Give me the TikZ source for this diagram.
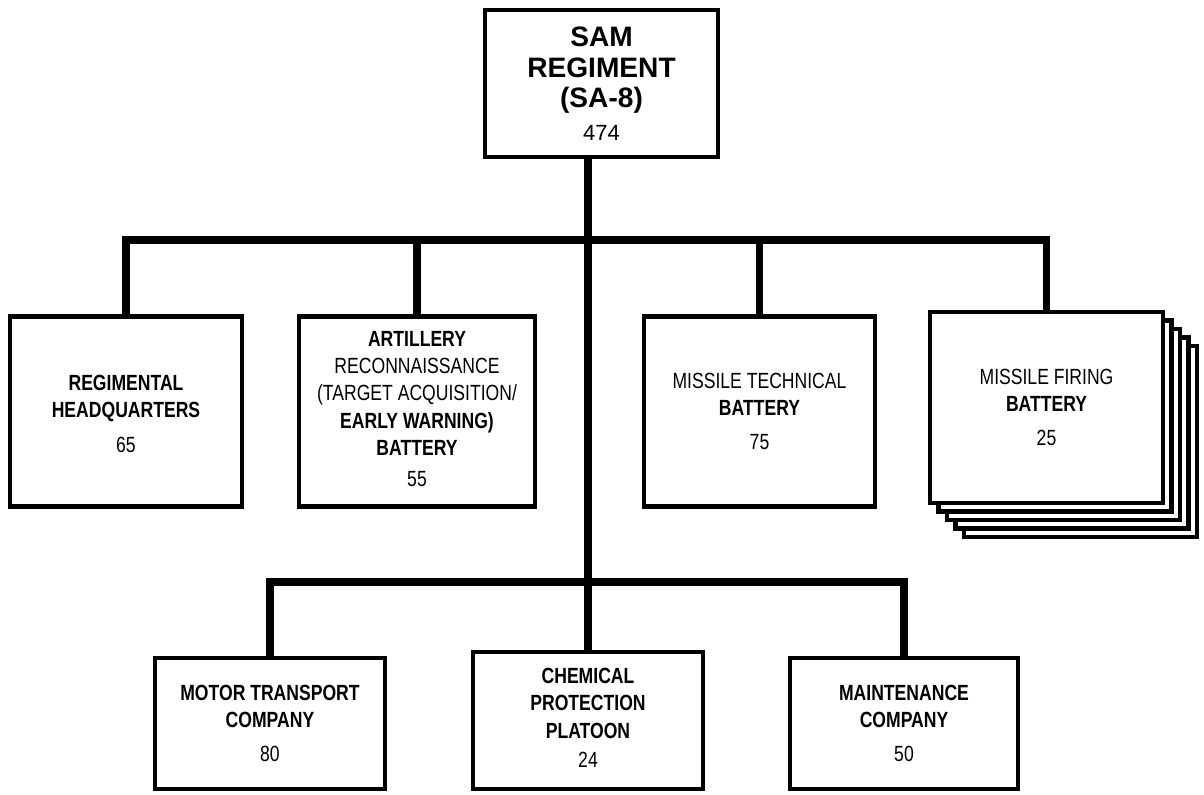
\documentclass[tikz,border=0pt]{standalone}
\usepackage{fontspec}
\newfontfamily\orgfont[FakeStretch=0.8]{Liberation Sans}
\newfontfamily\headfont{Liberation Sans}
\usetikzlibrary{positioning}

\begin{document}
\begin{tikzpicture}[
    orgbox/.style={draw, line width=2.6pt, fill=white, inner sep=0pt, align=center,
        minimum width=4.64cm, minimum height=3.8cm,
        font=\orgfont\bfseries\fontsize{12.5}{15.5}\selectfont},
    lowbox/.style={orgbox, minimum height=2.62cm},
    bus/.style={line width=4.5pt}
]
\useasboundingbox (0,0) rectangle (24.08,-15.88);

% regiment
\node[orgbox, minimum width=4.66cm, minimum height=2.94cm,
      font=\headfont\bfseries\fontsize{16}{17.5}\selectfont] (sam) at (12.03,-1.67)
    {SAM\\REGIMENT\\(SA-8)\\[1pt]{\mdseries\fontsize{12.5}{14}\selectfont 474}};

% batteries and headquarters
\node[orgbox] (hq) at (2.52,-8.23) {\\[-4pt]REGIMENTAL\\HEADQUARTERS\\[4pt]{\mdseries 65}};
\node[orgbox, minimum width=4.72cm] (art) at (8.34,-8.23)
    {\\[-10pt]ARTILLERY\\{\mdseries RECONNAISSANCE}\\{\mdseries (TARGET ACQUISITION/}\\EARLY WARNING)\\BATTERY\\[2pt]{\mdseries 55}};
\node[orgbox, minimum width=4.62cm] (tech) at (15.19,-8.23)
    {{\mdseries MISSILE TECHNICAL}\\BATTERY\\[4pt]{\mdseries 75}};
\foreach \i in {4,3,2,1}
    \node[orgbox, minimum width=4.66cm, minimum height=3.82cm] (firing-\i)
        at (20.93+0.17*\i,-8.15-0.17*\i) {};
\node[orgbox, minimum width=4.66cm, minimum height=3.82cm] (firing) at (20.93,-8.15)
    {{\mdseries MISSILE FIRING}\\BATTERY\\[4pt]{\mdseries 25}};

% support units
\node[lowbox, minimum width=4.6cm] (motor) at (5.40,-14.47) {MOTOR TRANSPORT\\COMPANY\\[4pt]{\mdseries 80}};
\node[lowbox, minimum width=4.6cm, minimum height=2.74cm] (chem) at (11.76,-14.41)
    {\\[-10pt]CHEMICAL\\PROTECTION\\PLATOON\\[1pt]{\mdseries 24}};
\node[lowbox, minimum width=4.56cm] (maint) at (18.08,-14.47) {MAINTENANCE\\COMPANY\\[4pt]{\mdseries 50}};

\coordinate (topbus) at (11.76,-4.8);
\coordinate (lowbus) at (11.76,-11.64);

\draw[bus] (sam.south -| lowbus) -- (chem.north);
\draw[bus] (hq.north) |- (topbus) -| (firing.north);
\draw[bus] (art.north) -- (art.north |- topbus);
\draw[bus] (tech.north) -- (tech.north |- topbus);
\draw[bus] (motor.north) |- (lowbus) -| (maint.north);
\end{tikzpicture}
\end{document}
